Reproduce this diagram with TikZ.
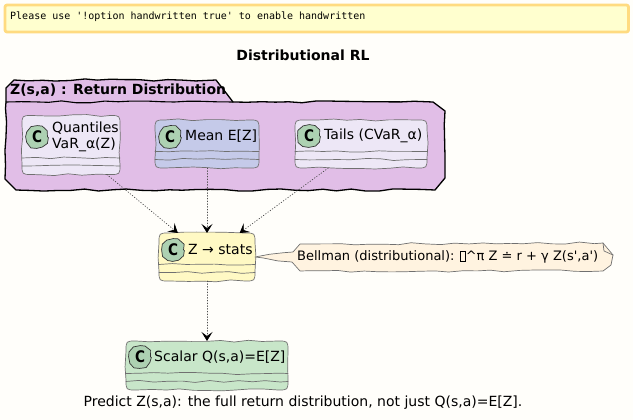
\documentclass[tikz,border=0pt]{standalone}
\usepackage{fontspec}
\setmainfont{DejaVu Sans}
\setmonofont{DejaVu Sans Mono}
\usetikzlibrary{arrows.meta,decorations.pathmorphing}
\definecolor{paper}{HTML}{FFFEFA}
\definecolor{warnfill}{HTML}{FFFFCF}
\definecolor{warnline}{HTML}{FFDB80}
\definecolor{pkgfill}{HTML}{E1BEE7}
\definecolor{lavender}{HTML}{EDE7F6}
\definecolor{indigofill}{HTML}{C5CAE9}
\definecolor{yellowfill}{HTML}{FFF9C4}
\definecolor{greenfill}{HTML}{C8E6C9}
\definecolor{notefill}{HTML}{FFF3E0}
\definecolor{iconfill}{HTML}{ADD1B2}
\definecolor{edge}{HTML}{707070}
\newcommand{\classoutline}[2]{%
	\draw[draw=edge,fill=#2,line width=0.7pt]
		([xshift=10pt]#1.north west) decorate[wobble] {-- ([xshift=-10pt]#1.north east)}
		.. controls (#1.north east) .. ([yshift=-10pt]#1.north east)
		decorate[wobble] {-- ([yshift=10pt]#1.south east)}
		.. controls (#1.south east) .. ([xshift=-10pt]#1.south east)
		decorate[wobble] {-- ([xshift=10pt]#1.south west)}
		.. controls (#1.south west) .. ([yshift=10pt]#1.south west)
		decorate[wobble] {-- ([yshift=-10pt]#1.north west)}
		.. controls (#1.north west) .. cycle;
}
\begin{document}
\begin{tikzpicture}[x=1pt,y=-1pt,line cap=round,line join=round,font=\fontsize{14}{16}\selectfont,>={Stealth[inset=4pt,length=9pt,width=11pt,black]}]
	\tikzset{
		wobble/.style={decoration={random steps,segment length=14pt,amplitude=1.1pt}},
		classbox/.style={inner sep=0pt,outer sep=0pt},
		icon/.style={circle,draw=black!80,line width=0.7pt,fill=iconfill,minimum size=21pt,inner sep=0pt,decorate,decoration={random steps,segment length=6pt,amplitude=0.7pt}},
		iconletter/.style={font=\fontsize{16}{16}\selectfont\bfseries,xscale=0.85},
		classname/.style={anchor=west,inner sep=0pt,align=left},
		depends/.style={->,dotted,draw=black!70,line width=0.75pt}
	}
	\useasboundingbox[fill=paper] (0,0) rectangle (633,420);
	\draw[draw=warnline,fill=warnfill,line width=2.8pt,rounded corners=2pt] (5,5) rectangle (628.5,32);
	\node[anchor=west,inner sep=0pt,font=\fontsize{10}{12}\ttfamily] (warning) at (10,17) {Please use '!option handwritten true' to enable handwritten};
	\node[font=\fontsize{14}{16}\selectfont\bfseries] (title) at (303,55) {Distributional RL};
	% package
	\draw[fill=pkgfill,draw=black,line width=1.3pt,decorate,wobble] (6,102) -- (6,88) -- (14,80) -- (216,80) -- (233,102) -- (433,102) -- (445,111) -- (445,178) -- (435,190) -- (16,190) -- (5,179) -- cycle;
	\draw[black,line width=1.1pt,decorate,wobble] (6,102) -- (233,102);
	\node[anchor=west,inner sep=0pt,font=\fontsize{14}{16}\selectfont\bfseries] (pkglabel) at (10,90) {Z(s,a) : Return Distribution};
	% classes
	\node[classbox,minimum width=98pt,minimum height=59pt] (quantiles) at (71,145) {};
	\node[classbox,minimum width=104pt,minimum height=48pt] (mean) at (207,144) {};
	\node[classbox,minimum width=132pt,minimum height=48pt] (tails) at (361,144) {};
	\node[classbox,minimum width=96pt,minimum height=48pt] (stats) at (207,257) {};
	\node[classbox,minimum width=162pt,minimum height=49pt] (scalar) at (207,365.5) {};
	\foreach \n/\c in {quantiles/lavender,mean/indigofill,tails/lavender,stats/yellowfill,scalar/greenfill}{
		\classoutline{\n}{\c}
		\draw[draw=edge,line width=0.7pt,decorate,wobble] ([yshift=16.5pt]\n.south west) -- ([yshift=16.5pt]\n.south east);
		\draw[draw=edge,line width=0.7pt,decorate,wobble] ([yshift=8.5pt]\n.south west) -- ([yshift=8.5pt]\n.south east);
	}
	\foreach \n/\cx/\cy in {quantiles/37/137,mean/170/137,tails/309/136,stats/173/250,scalar/140/357}{
		\node[icon] (\n icon) at (\cx,\cy) {};
		\node[iconletter] at (\n icon) {C};
	}
	\node[classname] (quantilestext) at (52,136.5) {Quantiles\\VaR\_α(Z)};
	\node[classname] (meantext) at (185,136) {Mean E[Z]};
	\node[classname] (tailstext) at (324,136) {Tails (CVaR\_α)};
	\node[classname] (statstext) at (188,249) {Z → stats};
	\node[classname] (scalartext) at (154,357) {Scalar Q(s,a)=E[Z]};
	% connectors
	\draw[depends] (quantiles) -- (stats);
	\draw[depends] (mean) -- (stats);
	\draw[depends] (tails) -- (stats);
	\draw[depends] (stats) -- (scalar);
	% note
	\coordinate (notetip) at (stats.east);
	\draw[draw=edge,fill=notefill,line width=0.7pt,decorate,wobble] (notetip) -- (293,252) -- (300,244) -- (603,243) -- (613,255) -- (611,265) -- (603,271) -- (300,271) -- (292,262) -- cycle;
	\draw[draw=edge,line width=0.7pt] (603,243) -- (604,251) -- (613,255);
	\node[anchor=west,inner sep=0pt,font=\fontsize{13}{15}\selectfont] (notetext) at (297,257) {Bellman (distributional): {\fboxsep=0pt\fboxrule=0.4pt\fbox{\rule{0pt}{9.5pt}\hspace{5pt}}}\^{}π Z ≐ r + γ Z(s\textquotesingle,a\textquotesingle)};
	\node[font=\fontsize{14}{16}\selectfont] (caption) at (303,403) {Predict Z(s,a): the full return distribution, not just Q(s,a)=E[Z].};
\end{tikzpicture}
\end{document}
